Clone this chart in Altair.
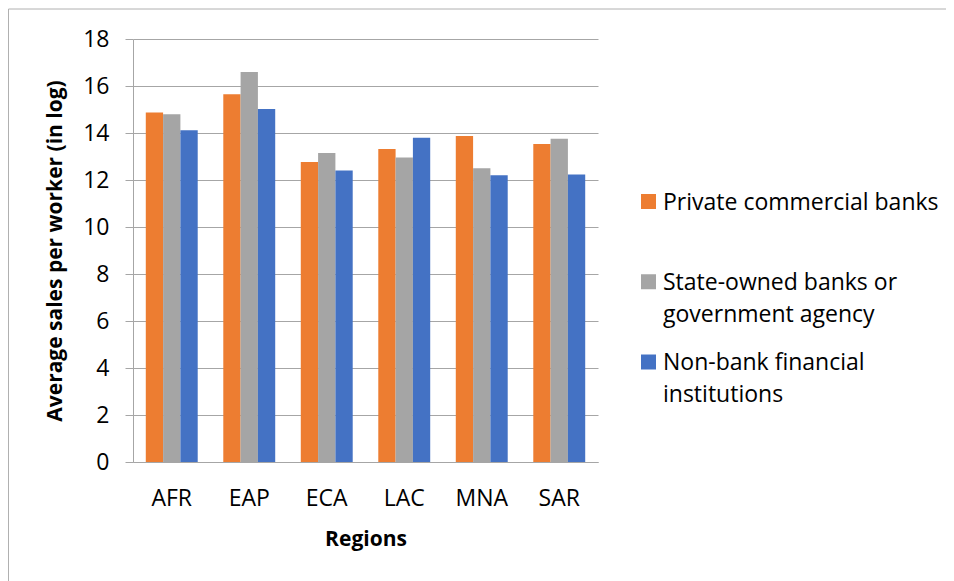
import altair as alt
import pandas as pd

regions = ["AFR", "EAP", "ECA", "LAC", "MNA", "SAR"]
series = [
    "Private commercial banks",
    "State-owned banks or government agency",
    "Non-bank financial institutions",
]
legend_text = [
    "Private commercial banks",
    "State-owned banks or|government agency",
    "Non-bank financial|institutions",
]
private_vals = [14.87, 15.65, 12.77, 13.32, 13.87, 13.53]
state_vals = [14.80, 16.60, 13.15, 12.96, 12.50, 13.76]
nonbank_vals = [14.12, 15.02, 12.40, 13.80, 12.20, 12.23]
colors = ["#ED7D31", "#A5A5A5", "#4472C4"]
y_ticks = [0, 2, 4, 6, 8, 10, 12, 14, 16, 18]

rows = []
for s, vals in zip(series, [private_vals, state_vals, nonbank_vals]):
    for r, v in zip(regions, vals):
        rows.append({"region": r, "series": s, "value": v})
df = pd.DataFrame(rows)
leg_df = pd.DataFrame({"series": series, "text": legend_text})

FONT = "Open Sans"
color_scale = alt.Scale(domain=series, range=colors)

bars = alt.Chart(df).mark_bar().encode(
    x=alt.X(
        "region:N",
        sort=regions,
        scale=alt.Scale(paddingInner=0.33, paddingOuter=0.165),
        axis=alt.Axis(
            title="Regions",
            labelAngle=0,
            ticks=False,
            domainColor="#a6a6a6",
            labelFontSize=23,
            labelPadding=25,
            titleFontSize=21,
            titleFontWeight="bold",
            titlePadding=18,
            labelColor="#000000",
            titleColor="#000000",
            labelFont=FONT,
            titleFont=FONT,
        ),
    ),
    xOffset=alt.XOffset("series:N", sort=series),
    y=alt.Y(
        "value:Q",
        scale=alt.Scale(domain=[0, 18], nice=False),
        axis=alt.Axis(
            title="Average sales per worker (in log)",
            values=y_ticks,
            grid=True,
            gridColor="#a6a6a6",
            domainColor="#a6a6a6",
            tickColor="#a6a6a6",
            tickSize=8,
            labelFontSize=23,
            labelPadding=16,
            titleFontSize=21,
            titleFontWeight="bold",
            titlePadding=17,
            labelColor="#000000",
            titleColor="#000000",
            labelFont=FONT,
            titleFont=FONT,
        ),
    ),
    color=alt.Color("series:N", sort=series, scale=color_scale, legend=None),
)

leg_y = alt.Y(
    "series:N",
    sort=series,
    scale=alt.Scale(type="point", domain=series, range=[162.5, 323], padding=0),
    axis=None,
)

leg_symbols = alt.Chart(leg_df).mark_square(size=225, opacity=1).encode(
    x=alt.value(515.5),
    y=leg_y,
    color=alt.Color("series:N", sort=series, scale=color_scale, legend=None),
)

leg_labels = alt.Chart(leg_df).transform_calculate(
    lines="split(datum.text, '|')"
).mark_text(
    align="left",
    baseline="alphabetic",
    dy=8,
    fontSize=23,
    font=FONT,
    lineHeight=32,
    color="#000000",
).encode(
    x=alt.value(530),
    y=leg_y,
    text="lines:N",
)

frame = alt.Chart(pd.DataFrame({"f": [0]})).mark_rect(
    fill=None, stroke="#b0b0b0", strokeWidth=1
).encode(
    x=alt.value(-124.5), x2=alt.value(900), y=alt.value(-30), y2=alt.value(650)
)

chart = (
    alt.layer(frame, bars, leg_symbols, leg_labels)
    .resolve_scale(y="independent")
    .properties(
        width=465,
        height=423,
        autosize=alt.AutoSizeParams(type="none"),
        padding={"left": 125, "top": 31, "right": 348, "bottom": 140},
    )
    .configure_view(stroke=None)
)

chart.save("out.html", embed_options={"renderer": "svg", "actions": False})
